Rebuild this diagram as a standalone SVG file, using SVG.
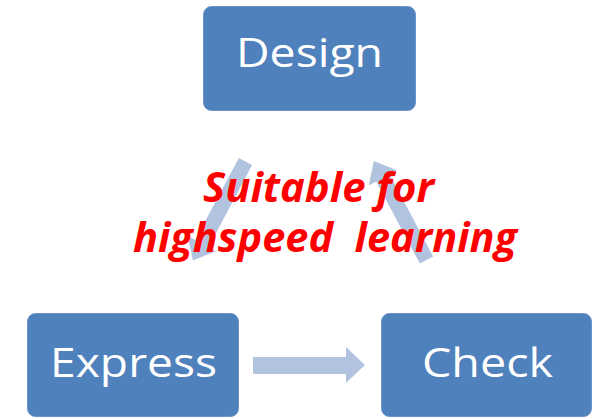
<svg xmlns="http://www.w3.org/2000/svg" width="603" height="419" viewBox="0 0 603 419">
<style>
.box{fill:#4f81bd;stroke:#6a93c8;stroke-width:1}
.lbl{font-family:"Open Sans","Liberation Sans",sans-serif;font-size:41px;fill:#ffffff;text-anchor:start}
.arr{fill:#b2c3df}
.note{font-family:"Open Sans","Liberation Sans",sans-serif;font-size:42px;font-weight:bold;font-style:italic;fill:#ff0000}
</style>
<defs>
<path id="diag" d="M0,-7.5 H93 V-16 L112,0 L93,16 V7.5 H0 Z"/>
</defs>
<rect width="603" height="419" fill="#ffffff"/>
<g id="connectors">
<path class="arr" d="M253,357 H346 V347 L365,365 L346,383 V374 H253 Z"/>
<use href="#diag" class="arr" transform="translate(245.5,161.5) rotate(118)"/>
<use href="#diag" class="arr" transform="translate(426.5,260) rotate(-118)"/>
</g>
<g id="design">
<rect class="box" x="203.5" y="6.5" width="212" height="104" rx="8"/>
<text class="lbl" x="236" y="67" textLength="147" lengthAdjust="spacingAndGlyphs">Design</text>
</g>
<g id="express">
<rect class="box" x="27.5" y="313.5" width="211" height="103" rx="8"/>
<text class="lbl" x="50" y="377" textLength="167" lengthAdjust="spacingAndGlyphs">Express</text>
</g>
<g id="check">
<rect class="box" x="381.5" y="313.5" width="210" height="103" rx="8"/>
<text class="lbl" x="422" y="377" textLength="131" lengthAdjust="spacingAndGlyphs">Check</text>
</g>
<g id="note">
<text class="note" x="203" y="202" textLength="231" lengthAdjust="spacingAndGlyphs">Suitable for</text>
<text class="note" x="133" y="252" textLength="384" lengthAdjust="spacingAndGlyphs" xml:space="preserve">highspeed  learning</text>
</g>
</svg>
